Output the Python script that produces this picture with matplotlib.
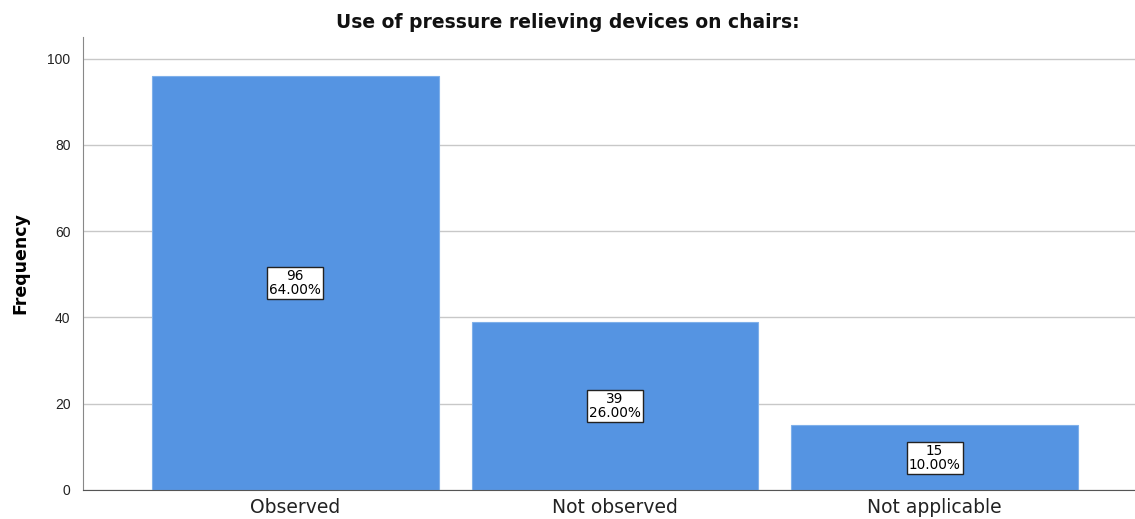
import matplotlib
matplotlib.use("Agg")
import matplotlib.pyplot as plt

categories = ["Observed", "Not observed", "Not applicable"]
counts = [96, 39, 15]
percents = ["64.00%", "26.00%", "10.00%"]
yticks = [0, 20, 40, 60, 80, 100]

plt.rcParams["font.family"] = ["Liberation Sans", "DejaVu Sans"]

fig = plt.figure(figsize=(11.35, 5.19), dpi=100)
ax = fig.add_axes([0.0731, 0.0559, 0.9269, 0.8728])

x = list(range(len(categories)))
ax.bar(x, counts, width=0.897, color="#5594E2", edgecolor="#7FB0EA", linewidth=0.8, zorder=2)
for xi, c, p in zip(x, counts, percents):
    ax.text(xi, c / 2, f"{c}\n{p}", ha="center", va="center", fontsize=9.8, linespacing=1.0,
            family=["DejaVu Sans"],
            bbox=dict(boxstyle="square,pad=0.15", facecolor="white", edgecolor="#222222", linewidth=1),
            zorder=3)

ax.set_xlim(-0.664, 2.627)
ax.set_ylim(0, 105)
ax.set_yticks(yticks)
ax.set_yticklabels([str(v) for v in yticks], fontsize=10, color="#222222")
ax.set_xticks(x)
ax.set_xticklabels(categories, fontsize=13.5, color="#222222", family=["DejaVu Sans"])
ax.tick_params(axis="x", length=0, pad=6)
ax.tick_params(axis="y", length=0, pad=9)
ax.yaxis.grid(True, color="#C8C8C8", linewidth=1, zorder=0)
ax.set_axisbelow(True)
for s in ["top", "right"]:
    ax.spines[s].set_visible(False)
ax.spines["left"].set_color("#888888")
ax.spines["bottom"].set_color("#555555")
ax.set_ylabel("Frequency", fontsize=12.5, fontweight="bold", labelpad=13,
              family=["DejaVu Sans"])
fig.text(0.5, 0.957, "Use of pressure relieving devices on chairs:", ha="center", va="center",
         fontsize=13.5, fontweight="bold", family=["DejaVu Sans"], color="#111111")

fig.savefig("out.png", dpi=100)
